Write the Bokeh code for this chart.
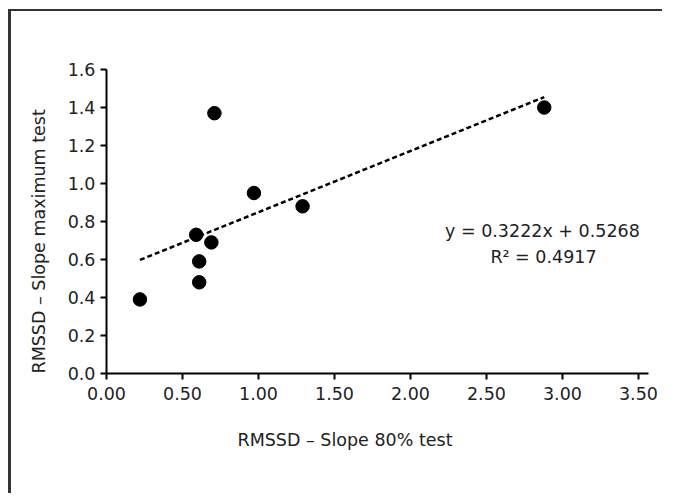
from bokeh.plotting import figure
from bokeh.models import ColumnDataSource, FixedTicker, NumeralTickFormatter, Label, Title
from bokeh.embed import file_html
from bokeh.resources import INLINE

# data
slope_80 = [0.22, 0.61, 0.61, 0.59, 0.69, 0.71, 0.97, 1.29, 2.88]
slope_max = [0.39, 0.48, 0.59, 0.73, 0.69, 1.37, 0.95, 0.88, 1.40]
fit_slope = 0.3222
fit_intercept = 0.5268
r_squared = 0.4917
x_ticks = [0.0, 0.5, 1.0, 1.5, 2.0, 2.5, 3.0, 3.5]
y_ticks = [0.0, 0.2, 0.4, 0.6, 0.8, 1.0, 1.2, 1.4, 1.6]
x_title = "RMSSD – Slope 80% test"
y_title = "RMSSD – Slope maximum test"

FONT = "DejaVu Sans"
TXT = "#222222"
FS = "17.5px"

p = figure(width=654, height=484, output_backend="svg", toolbar_location=None,
           x_range=(0, 3.566), y_range=(0, 1.6),
           min_border_left=95, min_border_right=17, min_border_top=58, min_border_bottom=122)
p.styles = {"margin-left": "8px", "margin-top": "9px",
            "border-left": "3px solid #333333", "border-top": "2px solid #333333"}
p.xgrid.visible = False
p.ygrid.visible = False
p.outline_line_color = None
p.background_fill_color = "white"
p.border_fill_color = "white"

for ax in (p.xaxis[0], p.yaxis[0]):
    ax.axis_line_width = 2
    ax.axis_line_color = "black"
    ax.major_tick_line_width = 2
    ax.major_tick_line_color = "black"
    ax.major_tick_in = 0
    ax.major_tick_out = 6
    ax.minor_tick_line_color = None
    ax.major_label_text_font = FONT
    ax.major_label_text_font_size = FS
    ax.major_label_text_color = TXT
    ax.major_label_text_font_style = "normal"

p.xaxis.ticker = FixedTicker(ticks=x_ticks)
p.yaxis.ticker = FixedTicker(ticks=y_ticks)
p.xaxis.formatter = NumeralTickFormatter(format="0.00")
p.yaxis.formatter = NumeralTickFormatter(format="0.0")
p.xaxis.major_label_standoff = 7
p.yaxis.major_label_standoff = 5

# trend line
tx = [min(slope_80), max(slope_80)]
ty = [fit_slope * v + fit_intercept for v in tx]
p.line(tx, ty, line_color="black", line_width=2.5, line_dash="5 3")

src = ColumnDataSource(dict(x=slope_80, y=slope_max))
p.scatter("x", "y", source=src, size=13.5, fill_color="black", line_color="black")

# axis titles (offset from the frame centre, as in the reference)
p.add_layout(Title(text=x_title, align="left", offset=131, standoff=51,
                   text_font=FONT, text_font_size=FS, text_color=TXT,
                   text_font_style="normal"), "below")
p.add_layout(Title(text=y_title, align="left", offset=0, standoff=31,
                   text_font=FONT, text_font_size=FS, text_color=TXT,
                   text_font_style="normal"), "left")

# equation
p.add_layout(Label(x=2.868, y=0.752,
                   text=f"y = {fit_slope:.4f}x + {fit_intercept:.4f}",
                   text_align="center", text_baseline="middle",
                   text_font=FONT, text_font_size=FS, text_color=TXT))
p.add_layout(Label(x=2.875, y=0.611,
                   text=f"R² = {r_squared:.4f}",
                   text_align="center", text_baseline="middle",
                   text_font=FONT, text_font_size=FS, text_color=TXT))

open("out.html", "w").write(file_html(p, INLINE))
